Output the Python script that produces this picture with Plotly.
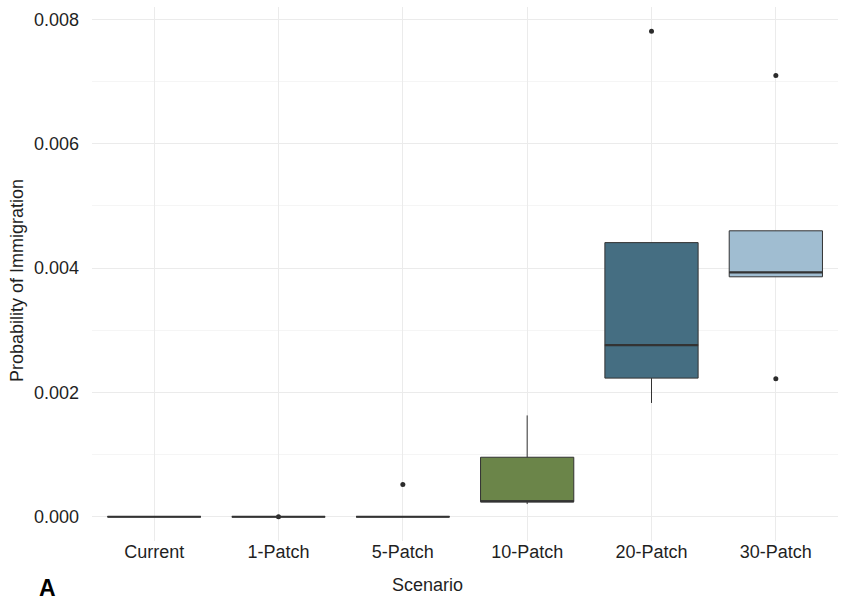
import plotly.graph_objects as go

# Scenario categories and their box-plot summary statistics
scenarios = ["Current", "1-Patch", "5-Patch", "10-Patch", "20-Patch", "30-Patch"]
q1 = [0.0, 0.0, 0.0, 0.000240, 0.00223, 0.00386]
median = [0.0, 0.0, 0.0, 0.000248, 0.00276, 0.00393]
q3 = [0.0, 0.0, 0.0, 0.000957, 0.00441, 0.00460]
lower_whisker = [0.0, 0.0, 0.0, 0.000204, 0.00183, 0.00386]
upper_whisker = [0.0, 0.0, 0.0, 0.00163, 0.00441, 0.00460]

# Outlying observations
outlier_scenario = ["1-Patch", "5-Patch", "20-Patch", "30-Patch", "30-Patch"]
outlier_value = [0.0, 0.000518, 0.00781, 0.00710, 0.00222]

fill_colors = ["#d8c07a", "#b3703f", "#8e4a36", "#6b8549", "#456e82", "#a0bdd1"]

y_ticks = [0.0, 0.002, 0.004, 0.006, 0.008]
y_tick_labels = ["0.000", "0.002", "0.004", "0.006", "0.008"]

FONT = "Liberation Sans, Arial, Helvetica, sans-serif"
TEXT = "#1f1f1f"
EDGE = "#333333"
BOX_WIDTH = 0.75
FS = 18

fig = go.Figure()

for i, s in enumerate(scenarios):
    fig.add_trace(go.Box(
        x=[s],
        q1=[q1[i]], median=[median[i]], q3=[q3[i]],
        lowerfence=[lower_whisker[i]], upperfence=[upper_whisker[i]],
        width=BOX_WIDTH,
        fillcolor=fill_colors[i],
        line=dict(color=EDGE, width=1),
        whiskerwidth=0,
        boxpoints=False,
        showlegend=False,
        hoverinfo="skip",
    ))

fig.add_trace(go.Scatter(
    x=outlier_scenario, y=outlier_value,
    mode="markers",
    marker=dict(color="#2b2b2b", size=5),
    showlegend=False, hoverinfo="skip",
))

# Thicker median bars, as in ggplot's fattened median line
for i, m in enumerate(median):
    fig.add_shape(
        type="line", xref="x", yref="y",
        x0=i - BOX_WIDTH / 2, x1=i + BOX_WIDTH / 2, y0=m, y1=m,
        line=dict(color=EDGE, width=2.2),
    )

ymin, ymax = 0.0, max(outlier_value + upper_whisker)
pad = (ymax - ymin) * 0.05

fig.update_layout(
    width=843, height=601,
    margin=dict(l=92, r=5, t=7, b=60),
    paper_bgcolor="white", plot_bgcolor="white",
    font=dict(family=FONT, size=FS, color=TEXT),
    boxmode="overlay",
    xaxis=dict(
        type="category",
        categoryorder="array", categoryarray=scenarios,
        range=[-0.5, len(scenarios) - 0.5],
        showgrid=True, gridcolor="#ebebeb", gridwidth=1,
        zeroline=False, showline=False, ticks="",
        ticklabelstandoff=-2,
        tickfont=dict(size=FS, color=TEXT),
    ),
    yaxis=dict(
        range=[ymin - pad, ymax + pad],
        tickvals=y_ticks, ticktext=y_tick_labels,
        showgrid=True, gridcolor="#ebebeb", gridwidth=1,
        minor=dict(dtick=0.001, showgrid=True, gridcolor="#f5f5f5", gridwidth=1),
        zeroline=False, showline=False, ticks="",
        ticklabelstandoff=12,
        tickfont=dict(size=FS, color=TEXT),
    ),
    annotations=[
        dict(text="Scenario", xref="paper", yref="paper",
             x=(427 - 92) / (843 - 92 - 5), y=-(591 - 541) / 534,
             xanchor="center", yanchor="bottom", yshift=-6, showarrow=False,
             font=dict(size=FS, color=TEXT)),
        dict(text="Probability of Immigration", xref="paper", yref="paper",
             x=-(92 - 17) / (843 - 92 - 5), y=0.5 - (281 - 274) / 534,
             textangle=-90, xanchor="center", yanchor="middle", showarrow=False,
             font=dict(size=FS, color=TEXT)),
        dict(text="<b>A</b>", xref="paper", yref="paper",
             x=-(92 - 37) / (843 - 92 - 5), y=-(597 - 541) / 534,
             xanchor="left", yanchor="bottom", yshift=-6, showarrow=False,
             font=dict(size=23, color="#000000")),
    ],
)

fig.write_html("out.html")
